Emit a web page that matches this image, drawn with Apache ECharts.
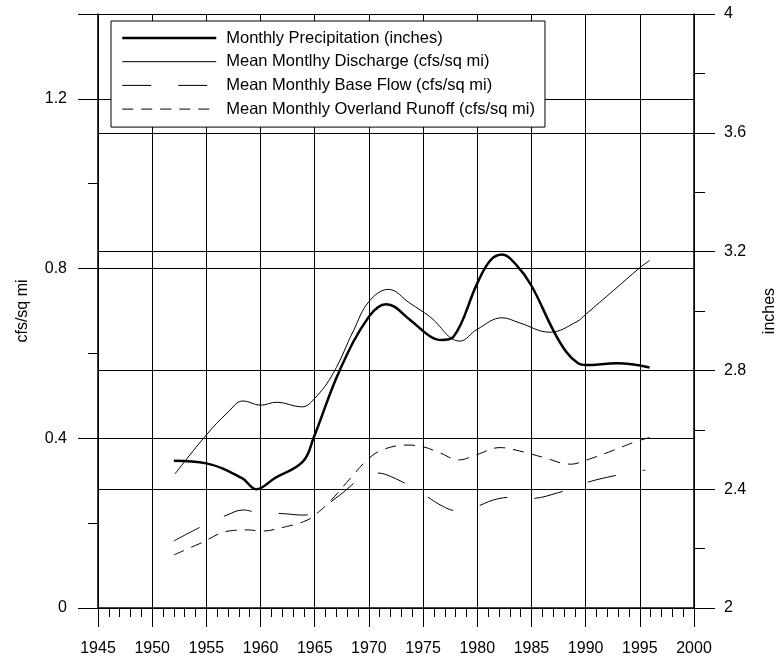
<!DOCTYPE html>
<html>
<head>
<meta charset="utf-8">
<script src="https://cdn.jsdelivr.net/npm/echarts@6/dist/echarts.min.js"></script>
<style>
html,body{margin:0;padding:0;background:#fff;}
#chart{width:778px;height:660px;}
</style>
</head>
<body>
<div id="chart"></div>
<script>
// ---- data ----
const seriesNames = [
  'Monthly Precipitation (inches)',
  'Mean Montlhy Discharge (cfs/sq mi)',
  'Mean Monthly Base Flow (cfs/sq mi)',
  'Mean Monthly Overland Runoff (cfs/sq mi)'
];

const precipYears  = [1952.0, 1955.0, 1958.3, 1959.6, 1961.3, 1963.9, 1964.9, 1967.3, 1970.0, 1971.6, 1973.8, 1975.6, 1976.7, 1977.8, 1980.0, 1981.2, 1982.3, 1983.6, 1985.0, 1987.0, 1988.2, 1989.3, 1990.0, 1992.9, 1995.9];
const precipValues = [2.496, 2.487, 2.437, 2.400, 2.437, 2.493, 2.573, 2.800, 2.981, 3.023, 2.970, 2.916, 2.902, 2.913, 3.093, 3.170, 3.190, 3.155, 3.085, 2.936, 2.863, 2.824, 2.818, 2.824, 2.810];

const dischargeYears  = [1952.1, 1955.0, 1956.9, 1958.4, 1960.0, 1961.5, 1963.8, 1965.0, 1966.7, 1968.6, 1970.0, 1971.8, 1973.8, 1975.6, 1978.4, 1980.0, 1982.3, 1983.9, 1986.7, 1989.2, 1990.0, 1992.6, 1995.0, 1995.9];
const dischargeValues = [0.316, 0.408, 0.459, 0.488, 0.478, 0.485, 0.474, 0.494, 0.553, 0.655, 0.722, 0.751, 0.718, 0.687, 0.629, 0.657, 0.684, 0.672, 0.650, 0.675, 0.692, 0.749, 0.802, 0.819];

const baseYears  = [1952.0, 1954.4, 1956.9, 1958.4, 1959.6, 1962.3, 1963.9, 1965.0, 1967.3, 1969.4, 1970.8, 1972.1, 1974.5, 1976.8, 1978.2, 1979.5, 1982.0, 1983.5, 1984.8, 1987.5, 1990.0, 1992.7, 1995.5];
const baseValues = [0.158, 0.190, 0.219, 0.231, 0.226, 0.222, 0.219, 0.225, 0.266, 0.308, 0.318, 0.309, 0.277, 0.240, 0.229, 0.235, 0.258, 0.261, 0.258, 0.272, 0.295, 0.312, 0.325];

const runoffYears  = [1952.0, 1954.4, 1957.2, 1959.0, 1959.9, 1962.4, 1964.3, 1965.2, 1966.4, 1968.3, 1970.1, 1971.6, 1973.5, 1975.0, 1976.6, 1978.3, 1979.9, 1982.1, 1983.9, 1986.1, 1988.6, 1990.1, 1992.6, 1994.4, 1995.9];
const runoffValues = [0.125, 0.152, 0.182, 0.184, 0.181, 0.192, 0.207, 0.223, 0.251, 0.306, 0.355, 0.376, 0.384, 0.380, 0.365, 0.349, 0.361, 0.378, 0.370, 0.355, 0.339, 0.349, 0.372, 0.390, 0.402];

const xMin = 1945, xMax = 2000, xStep = 5;
const leftMin = 0, leftMax = 1.4, leftStep = 0.4;
const rightMin = 2, rightMax = 4, rightStep = 0.4;

// ---- build ----
const zip = (xs, ys) => xs.map((x, i) => [x, ys[i]]);
const FONT = '"Liberation Sans", Arial, Helvetica, sans-serif';
const BLACK = '#000';

const lineStyles = [
  {color: BLACK, width: 2.5, type: 'solid'},
  {color: BLACK, width: 1, type: 'solid'},
  {color: BLACK, width: 1, type: [29, 27]},
  {color: BLACK, width: 1, type: [11, 8]}
];

const chart = echarts.init(document.getElementById('chart'), null, {renderer: 'canvas'});

const option = {
  backgroundColor: '#fff',
  animation: false,
  textStyle: {fontFamily: FONT, color: BLACK},
  grid: {left: 98, right: 84, top: 14, bottom: 52, containLabel: false, outerBoundsMode: 'none'},
  legend: {
    data: seriesNames.map((n, i) => ({name: n, lineStyle: Object.assign({}, lineStyles[i])})),
    orient: 'vertical',
    left: 111,
    top: 21,
    itemWidth: 94,
    itemHeight: 20,
    itemGap: 3.7,
    padding: [7, 10, 8, 10],
    backgroundColor: '#fff',
    borderColor: BLACK,
    borderWidth: 1,
    selectedMode: false,
    itemStyle: {opacity: 0},
    textStyle: {fontFamily: FONT, fontSize: 16.5, color: BLACK, lineHeight: 20, padding: [0, 0, 0, 5]},
    z: 10
  },
  xAxis: {
    type: 'value',
    min: xMin, max: xMax, interval: xStep,
    axisLine: {show: true, lineStyle: {color: BLACK, width: 1.5}},
    axisTick: {show: true, length: 19, lineStyle: {color: BLACK, width: 1}},
    minorTick: {show: true, splitNumber: 5, length: 9, lineStyle: {color: BLACK, width: 1}},
    splitLine: {show: true, lineStyle: {color: BLACK, width: 1}},
    axisLabel: {margin: 33, fontSize: 16, color: BLACK, fontFamily: FONT, formatter: v => String(Math.round(v))}
  },
  yAxis: [
    {
      type: 'value', position: 'left',
      min: leftMin, max: leftMax, interval: leftStep,
      name: 'cfs/sq mi', nameLocation: 'middle', nameGap: 67,
      nameTextStyle: {fontSize: 16, color: BLACK, fontFamily: FONT},
      axisLine: {show: true, lineStyle: {color: BLACK, width: 1.5}},
      axisTick: {show: true, length: 20, lineStyle: {color: BLACK, width: 1}},
      splitLine: {show: true, lineStyle: {color: BLACK, width: 1}},
      axisLabel: {
        margin: 31, fontSize: 16, color: BLACK, fontFamily: FONT,
        formatter: v => (Math.abs(v - leftMax) < 1e-9 ? '' : String(+v.toFixed(2)))
      }
    },
    {
      type: 'value', position: 'left',
      min: leftMin, max: leftMax, interval: leftStep / 2,
      axisLine: {show: false},
      axisTick: {show: true, length: 10, lineStyle: {color: BLACK, width: 1}},
      splitLine: {show: false},
      axisLabel: {show: false}
    },
    {
      type: 'value', position: 'right',
      min: rightMin, max: rightMax, interval: rightStep,
      name: 'inches', nameLocation: 'middle', nameGap: 68,
      nameTextStyle: {fontSize: 16, color: BLACK, fontFamily: FONT},
      axisLine: {show: true, lineStyle: {color: BLACK, width: 1.5}},
      axisTick: {show: true, length: 21, lineStyle: {color: BLACK, width: 1}},
      splitLine: {show: true, lineStyle: {color: BLACK, width: 1}},
      axisLabel: {
        margin: 30, fontSize: 16, color: BLACK, fontFamily: FONT,
        formatter: v => String(+v.toFixed(2))
      }
    },
    {
      type: 'value', position: 'right',
      min: rightMin, max: rightMax, interval: rightStep / 2,
      axisLine: {show: false},
      axisTick: {show: true, length: 11, lineStyle: {color: BLACK, width: 1}},
      splitLine: {show: false},
      axisLabel: {show: false}
    }
  ],
  series: [
    {
      name: seriesNames[0], type: 'line', yAxisIndex: 2,
      data: zip(precipYears, precipValues),
      smooth: 0.4, symbol: 'none', z: 5,
      lineStyle: lineStyles[0], itemStyle: {color: BLACK}
    },
    {
      name: seriesNames[1], type: 'line', yAxisIndex: 0,
      data: zip(dischargeYears, dischargeValues),
      smooth: 0.4, symbol: 'none', z: 4,
      lineStyle: lineStyles[1], itemStyle: {color: BLACK}
    },
    {
      name: seriesNames[2], type: 'line', yAxisIndex: 0,
      data: zip(baseYears, baseValues),
      smooth: 0.4, symbol: 'none', z: 4,
      lineStyle: lineStyles[2], itemStyle: {color: BLACK}
    },
    {
      name: seriesNames[3], type: 'line', yAxisIndex: 0,
      data: zip(runoffYears, runoffValues),
      smooth: 0.4, symbol: 'none', z: 4,
      lineStyle: lineStyles[3], itemStyle: {color: BLACK}
    }
  ]
};

chart.setOption(option);
</script>
</body>
</html>
